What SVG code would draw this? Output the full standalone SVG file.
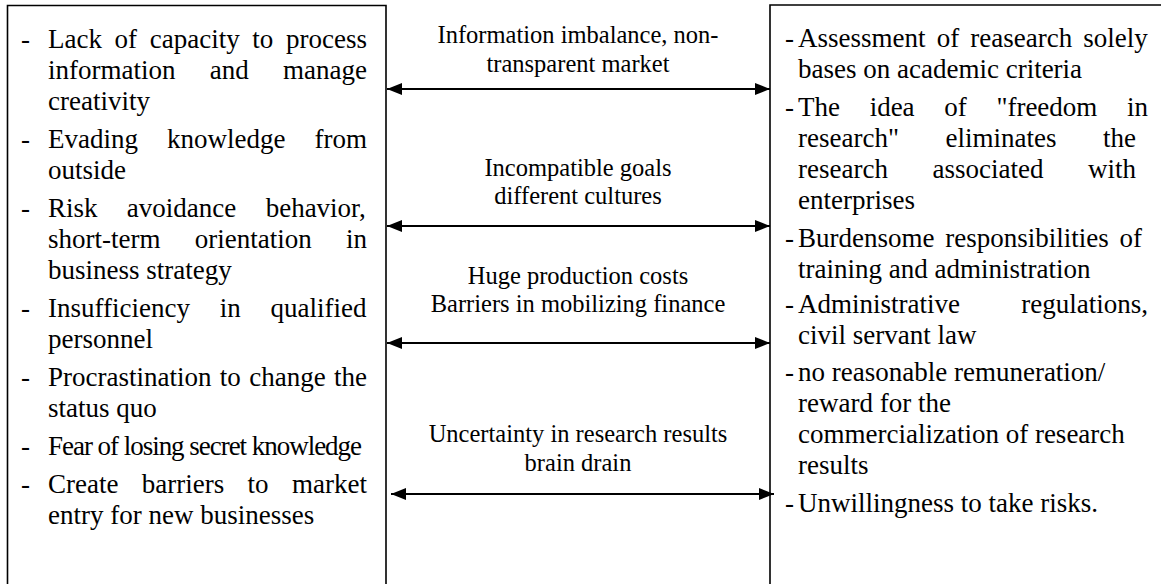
<svg xmlns="http://www.w3.org/2000/svg" width="1161" height="584" viewBox="0 0 1161 584">
  <style>
    .frame { fill: none; stroke: #000; stroke-width: 1.6; }
    .item { font-size: 27px; fill: #000; }
    .mid { font-size: 24.5px; fill: #000; text-anchor: middle; }
    .link { stroke: #000; stroke-width: 2; fill: none; marker-start: url(#head); marker-end: url(#head); }
  </style>
  <defs>
    <marker id="head" viewBox="0 0 15 12" refX="15" refY="6" markerWidth="15" markerHeight="12" markerUnits="userSpaceOnUse" orient="auto-start-reverse">
      <path d="M0,0 L15,6 L0,12 Z" fill="#000"/>
    </marker>
  </defs>

  <rect width="1161" height="584" fill="#fff"/>

  <g font-family="Liberation Serif, Times New Roman, serif">
  <!-- Enterprise-side barriers -->
  <g id="enterprise-barriers">
    <path class="frame" d="M7.5,590 V5.5 H386 V590"/>
    <g class="item">
      <text x="21" y="48">-</text>
      <text x="48" y="48" style="word-spacing:5.9px">Lack of capacity to process</text>
      <text x="48" y="79" style="word-spacing:27.5px">information and manage</text>
      <text x="48" y="110">creativity</text>

      <text x="21" y="148">-</text>
      <text x="48" y="148" style="word-spacing:22.3px">Evading knowledge from</text>
      <text x="48" y="179">outside</text>

      <text x="21" y="217">-</text>
      <text x="48" y="217" style="word-spacing:22.6px">Risk avoidance behavior,</text>
      <text x="48" y="248" style="word-spacing:27.5px">short-term orientation in</text>
      <text x="48" y="279">business strategy</text>

      <text x="21" y="317">-</text>
      <text x="48" y="317" style="word-spacing:23px">Insufficiency in qualified</text>
      <text x="48" y="348">personnel</text>

      <text x="21" y="386">-</text>
      <text x="48" y="386" style="word-spacing:1.6px">Procrastination to change the</text>
      <text x="48" y="417">status quo</text>

      <text x="21" y="455">-</text>
      <text x="48" y="455" textLength="314" lengthAdjust="spacing">Fear of losing secret knowledge</text>

      <text x="21" y="493">-</text>
      <text x="48" y="493" style="word-spacing:16.6px">Create barriers to market</text>
      <text x="48" y="524">entry for new businesses</text>
    </g>
  </g>

  <!-- University-side barriers -->
  <g id="university-barriers">
    <path class="frame" d="M770,590 V5 H1170"/>
    <g class="item">
      <text x="785" y="47">-</text>
      <text x="798" y="47" style="word-spacing:4.4px">Assessment of reasearch solely</text>
      <text x="798" y="78">bases on academic criteria</text>

      <text x="785" y="116">-</text>
      <text x="798" y="116" style="word-spacing:22.9px">The idea of "freedom in</text>
      <text x="798" y="147" style="word-spacing:39.8px">research" eliminates the</text>
      <text x="798" y="178" style="word-spacing:37.8px">research associated with</text>
      <text x="798" y="209">enterprises</text>

      <text x="785" y="247">-</text>
      <text x="798" y="247" style="word-spacing:4px">Burdensome responsibilities of</text>
      <text x="798" y="278">training and administration</text>

      <text x="785" y="313">-</text>
      <text x="798" y="313" style="word-spacing:54.5px">Administrative regulations,</text>
      <text x="798" y="344">civil servant law</text>

      <text x="785" y="381">-</text>
      <text x="798" y="381">no reasonable remuneration/</text>
      <text x="798" y="412">reward for the</text>
      <text x="798" y="443">commercialization of research</text>
      <text x="798" y="474">results</text>

      <text x="785" y="512">-</text>
      <text x="798" y="512">Unwillingness to take risks.</text>
    </g>
  </g>

  <!-- Labels between the two sides -->
  <g id="label-information">
    <text class="mid" x="578" y="43">Information imbalance, non-</text>
    <text class="mid" x="578" y="72">transparent market</text>
  </g>
  <g id="label-goals">
    <text class="mid" x="578" y="176">Incompatible goals</text>
    <text class="mid" x="578" y="204">different cultures</text>
  </g>
  <g id="label-costs">
    <text class="mid" x="578" y="284">Huge production costs</text>
    <text class="mid" x="578" y="312">Barriers in mobilizing finance</text>
  </g>
  <g id="label-uncertainty">
    <text class="mid" x="578" y="442">Uncertainty in research results</text>
    <text class="mid" x="578" y="471">brain drain</text>
  </g>
  </g>

  <!-- Two-way links -->
  <g id="connectors">
    <line class="link" x1="387" y1="89" x2="770" y2="89"/>
    <line class="link" x1="387" y1="226" x2="770" y2="226"/>
    <line class="link" x1="387" y1="343" x2="770" y2="343"/>
    <line class="link" x1="391" y1="494" x2="774" y2="494"/>
  </g>
</svg>
